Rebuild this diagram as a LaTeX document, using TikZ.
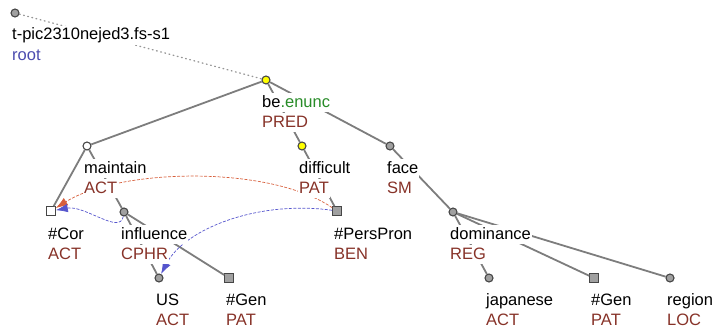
\documentclass[tikz,border=0pt]{standalone}
\usepackage{fontspec}
\setmainfont{Liberation Sans}
\usepackage{xcolor}
\usepackage{tikz}
\usetikzlibrary{arrows.meta, calc}
\definecolor{myedge}{RGB}{125,125,125}
\definecolor{myborder}{RGB}{70,70,70}
\definecolor{mygray}{RGB}{160,160,160}
\definecolor{mydots}{RGB}{150,150,150}
\definecolor{myyellow}{RGB}{255,255,0}
\definecolor{myfunctor}{RGB}{135,50,40}
\definecolor{myroot}{RGB}{75,75,175}
\definecolor{mygreen}{RGB}{40,140,40}
\definecolor{myred}{RGB}{215,95,60}
\definecolor{mycoref}{RGB}{85,85,205}
\tikzset{
  tnode/.style={circle, draw=myborder, fill=mygray,
    minimum size=8pt, inner sep=0pt, line width=1.1pt},
  gennode/.style={rectangle, draw=myborder, fill=mygray,
    minimum size=8.5pt, inner sep=0pt, line width=1.1pt},
  lemma/.style={anchor=base west, fill=white, inner xsep=1pt, inner ysep=1.5pt,
    text height=12.5pt, text depth=3.5pt, text=black},
  functor/.style={lemma, text=myfunctor},
  treeedge/.style={line width=1.8pt, color=myedge},
  rootedge/.style={line width=1.3pt, color=mydots, line cap=round,
    dash pattern=on 0.8pt off 3.5pt},
  redarrow/.style={-{Latex[length=12pt,width=8.5pt]}, color=myred,
    line width=0.7pt, dash pattern=on 3pt off 1.5pt},
  bluearrow/.style={-{Latex[length=12pt,width=8.5pt]}, color=mycoref,
    line width=0.7pt, dash pattern=on 3pt off 1.5pt}
}

\begin{document}
\begin{tikzpicture}[x=1pt, y=-1pt, font=\fontsize{16.5}{20}\selectfont]
  \useasboundingbox (0,0) rectangle (714,329);

  \node[tnode] (root) at (15,13) {};
  \node[tnode, fill=myyellow] (be) at (266,80) {};
  \node[tnode, fill=white] (maintain) at (87,146) {};
  \node[tnode, fill=myyellow] (difficult) at (302,146) {};
  \node[tnode] (face) at (390,146) {};
  \node[gennode, fill=white] (cor) at (51,211) {};
  \node[tnode] (influence) at (124,212) {};
  \node[gennode] (perspron) at (337,211) {};
  \node[tnode] (dominance) at (453,212) {};
  \node[tnode] (us) at (159,278) {};
  \node[gennode] (gena) at (229,278) {};
  \node[tnode] (japanese) at (489,278) {};
  \node[gennode] (genb) at (594,278) {};
  \node[tnode] (region) at (670,278) {};

  \draw[rootedge] (root) -- (be);
  \draw[treeedge] (be) -- (maintain);
  \draw[treeedge] (be) -- (difficult);
  \draw[treeedge] (be) -- (face);
  \draw[treeedge] (maintain) -- (cor);
  \draw[treeedge] (maintain) -- (influence);
  \draw[treeedge] (influence) -- (us);
  \draw[treeedge] (influence) -- (gena);
  \draw[treeedge] (difficult) -- (perspron);
  \draw[treeedge] (face) -- (dominance);
  \draw[treeedge] (dominance) -- (japanese);
  \draw[treeedge] (dominance) -- (genb);
  \draw[treeedge] (dominance) -- (region);

  \draw[redarrow] (perspron) .. controls (270,165) and (120,168) .. (cor);
  \draw[bluearrow] (influence) .. controls (120,235) and (85,205) .. (cor);
  \draw[bluearrow] (perspron) .. controls (260,200) and (185,228) .. (us);

  \node[lemma] (rootlem) at ($(root)+(-4,27)$) {t-pic2310nejed3.fs-s1};
  \node[lemma, text=myroot] (rootfun) at ($(root)+(-4,47)$) {root};
  \node[lemma] (belem) at ($(be)+(-5,27)$) {be\textcolor{mygreen}{.enunc}};
  \node[functor] (befun) at ($(be)+(-5,47)$) {PRED};
  \node[lemma] (maintainlem) at ($(maintain)+(-4,27)$) {maintain};
  \node[functor] (maintainfun) at ($(maintain)+(-4,47)$) {ACT};
  \node[lemma] (difficultlem) at ($(difficult)+(-4,27)$) {difficult};
  \node[functor] (difficultfun) at ($(difficult)+(-4,47)$) {PAT};
  \node[lemma] (facelem) at ($(face)+(-4,27)$) {face};
  \node[functor] (facefun) at ($(face)+(-4,47)$) {SM};
  \node[lemma] (corlem) at ($(cor)+(-4,28)$) {\#Cor};
  \node[functor] (corfun) at ($(cor)+(-4,48)$) {ACT};
  \node[lemma] (influencelem) at ($(influence)+(-4,27)$) {influence};
  \node[functor] (influencefun) at ($(influence)+(-4,47)$) {CPHR};
  \node[lemma] (perspronlem) at ($(perspron)+(-4,28)$) {\#PersPron};
  \node[functor] (perspronfun) at ($(perspron)+(-4,48)$) {BEN};
  \node[lemma] (dominancelem) at ($(dominance)+(-4,27)$) {dominance};
  \node[functor] (dominancefun) at ($(dominance)+(-4,47)$) {REG};
  \node[lemma] (uslem) at ($(us)+(-4,27)$) {US};
  \node[functor] (usfun) at ($(us)+(-4,47)$) {ACT};
  \node[lemma] (genalem) at ($(gena)+(-4,27)$) {\#Gen};
  \node[functor] (genafun) at ($(gena)+(-4,47)$) {PAT};
  \node[lemma] (japaneselem) at ($(japanese)+(-4,27)$) {japanese};
  \node[functor] (japanesefun) at ($(japanese)+(-4,47)$) {ACT};
  \node[lemma] (genblem) at ($(genb)+(-4,27)$) {\#Gen};
  \node[functor] (genbfun) at ($(genb)+(-4,47)$) {PAT};
  \node[lemma] (regionlem) at ($(region)+(-4,27)$) {region};
  \node[functor] (regionfun) at ($(region)+(-4,47)$) {LOC};
\end{tikzpicture}
\end{document}
